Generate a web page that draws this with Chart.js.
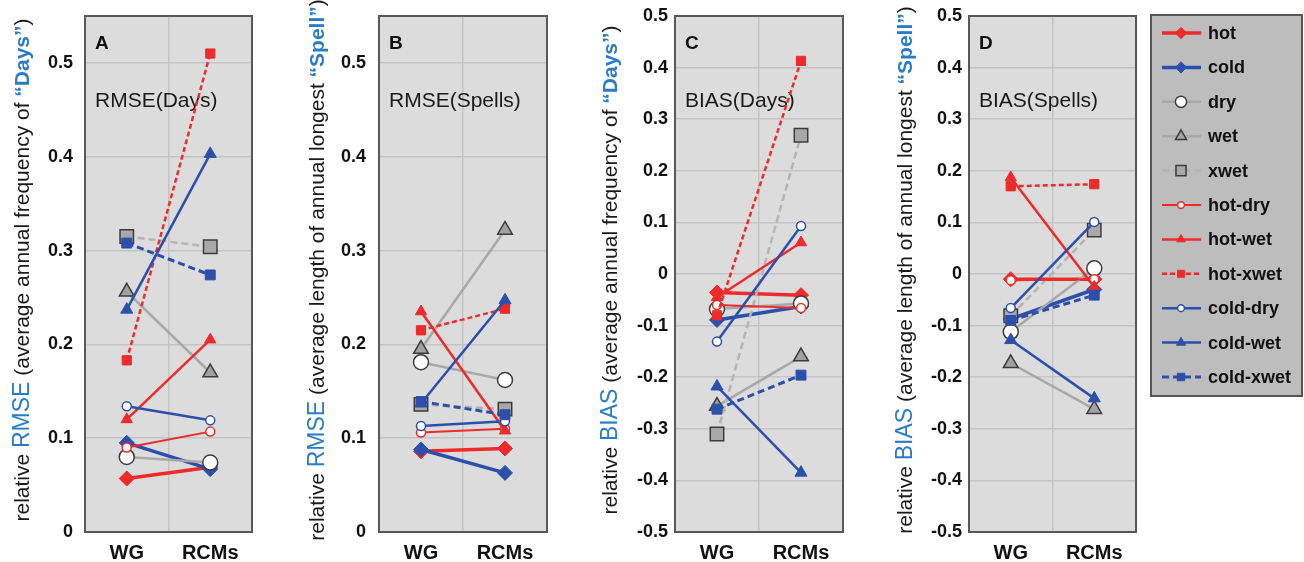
<!DOCTYPE html>
<html>
<head>
<meta charset="utf-8">
<script src="https://cdn.jsdelivr.net/npm/chart.js@4.4.1/dist/chart.umd.min.js"></script>
<style>
  html, body { margin: 0; padding: 0; background: #ffffff; }
  #wrap { position: relative; width: 1304px; height: 562px; overflow: hidden; }
  #wrap canvas { position: absolute; left: 0; top: 0; }
</style>
</head>
<body>
<div id="wrap">
  <canvas id="panelA" width="1304" height="562"></canvas>
  <canvas id="panelB" width="1304" height="562"></canvas>
  <canvas id="panelC" width="1304" height="562"></canvas>
  <canvas id="panelD" width="1304" height="562"></canvas>
</div>
<script>
// ---- data -------------------------------------------------------------
const categories = ['WG', 'RCMs'];
const seriesNames = ['hot', 'cold', 'dry', 'wet', 'xwet', 'hot-dry', 'hot-wet',
                     'hot-xwet', 'cold-dry', 'cold-wet', 'cold-xwet'];

// A: relative RMSE, annual frequency of days
const rmseDaysWG  = [0.057, 0.095, 0.080, 0.256, 0.315, 0.090, 0.120, 0.183, 0.134, 0.237, 0.308];
const rmseDaysRCM = [0.069, 0.067, 0.074, 0.170, 0.304, 0.107, 0.205, 0.510, 0.119, 0.403, 0.274];

// B: relative RMSE, annual longest spell
const rmseSpellsWG  = [0.086, 0.088, 0.181, 0.195, 0.136, 0.106, 0.235, 0.215, 0.113, 0.137, 0.139];
const rmseSpellsRCM = [0.089, 0.063, 0.162, 0.322, 0.131, 0.110, 0.108, 0.238, 0.118, 0.247, 0.125];

// C: relative BIAS, annual frequency of days
const biasDaysWG  = [-0.036, -0.089, -0.068, -0.256, -0.310, -0.060, -0.045, -0.080, -0.131, -0.218, -0.262];
const biasDaysRCM = [-0.041, -0.063, -0.057, -0.160, 0.269, -0.066, 0.061, 0.413, 0.093, -0.385, -0.196];

// D: relative BIAS, annual longest spell
const biasSpellsWG  = [-0.010, -0.087, -0.112, -0.173, -0.081, -0.012, 0.187, 0.170, -0.066, -0.128, -0.090];
const biasSpellsRCM = [-0.010, -0.030, 0.011, -0.262, 0.085, -0.010, -0.025, 0.174, 0.101, -0.241, -0.041];

const rmseTicks = [0, 0.1, 0.2, 0.3, 0.4, 0.5];
const biasTicks = [-0.5, -0.4, -0.3, -0.2, -0.1, 0, 0.1, 0.2, 0.3, 0.4, 0.5];

// ---- styling ----------------------------------------------------------
const FONT = "'Liberation Sans', Arial, Helvetica, sans-serif";
const RED = '#ee2a2a';
const BLUE = '#2d4fac';
const GREY = '#a8a8a8';
const EDGE = '#3c3c3c';
const TITLE_BLUE = '#2a7cc8';
const PLOT_BG = '#dcdcdc';
const GRID = '#c4c4c4';
const FRAME = '#585858';

const seriesStyle = [
  { color: RED,  width: 3.5, dash: [],     point: 'rectRot',  r: 7.5, fill: RED,       edge: RED,  bw: 1 },
  { color: BLUE, width: 3.5, dash: [],     point: 'rectRot',  r: 7.5, fill: BLUE,      edge: BLUE, bw: 1 },
  { color: GREY, width: 2.5, dash: [],     point: 'circle',   r: 7.5, fill: '#ffffff', edge: EDGE, bw: 1.5 },
  { color: GREY, width: 2.5, dash: [],     point: 'triangle', r: 8.5, fill: '#a2a2a2', edge: EDGE, bw: 1.5 },
  { color: '#b4b4b4', width: 2.5, dash: [7, 4], point: 'rect', r: 9.5, fill: '#a8a8a8', edge: EDGE, bw: 1.5 },
  { color: RED,  width: 2,   dash: [],     point: 'circle',   r: 4.5, fill: '#ffffff', edge: RED,  bw: 1.5 },
  { color: RED,  width: 2.5, dash: [],     point: 'triangle', r: 6.5, fill: RED,       edge: RED,  bw: 1 },
  { color: RED,  width: 2.5, dash: [5, 3], point: 'rect',     r: 6.5, fill: RED,       edge: RED,  bw: 1 },
  { color: BLUE, width: 2.5, dash: [],     point: 'circle',   r: 4.5, fill: '#ffffff', edge: BLUE, bw: 1.5 },
  { color: BLUE, width: 2.5, dash: [],     point: 'triangle', r: 7,   fill: BLUE,      edge: BLUE, bw: 1 },
  { color: BLUE, width: 3,   dash: [7, 4], point: 'rect',     r: 7,   fill: BLUE,      edge: BLUE, bw: 1 }
];

function buildDatasets(wg, rcm) {
  return seriesNames.map((name, i) => {
    const s = seriesStyle[i];
    return {
      label: name,
      data: [wg[i], rcm[i]],
      borderColor: s.color,
      borderWidth: s.width,
      borderDash: s.dash,
      tension: 0,
      fill: false,
      pointStyle: s.point,
      pointRadius: s.r,
      pointHoverRadius: s.r,
      pointBackgroundColor: s.fill,
      pointBorderColor: s.edge,
      pointBorderWidth: s.bw,
      order: -i   // later series sit on top
    };
  });
}

function tickText(v) {
  if (Math.abs(v) < 1e-9) return '0';
  return v.toFixed(1);
}

// rotated axis title made of coloured pieces
function drawAxisTitle(ctx, x, cy, parts) {
  ctx.save();
  ctx.translate(x, cy);
  ctx.rotate(-Math.PI / 2);
  ctx.textBaseline = 'middle';
  ctx.textAlign = 'left';
  let total = 0;
  parts.forEach(p => { ctx.font = p.font; p.w = ctx.measureText(p.text).width; total += p.w; });
  let pos = -total / 2;
  parts.forEach(p => {
    ctx.font = p.font;
    ctx.fillStyle = p.color;
    ctx.fillText(p.text, pos, 0);
    pos += p.w;
  });
  ctx.restore();
}

function titleParts(measure, quantity) {
  const plain = `21px ${FONT}`;
  return [
    { text: 'relative ', font: plain, color: '#1a1a1a' },
    { text: measure, font: `23px ${FONT}`, color: TITLE_BLUE },
    { text: ' (' + quantity + ' ', font: plain, color: '#1a1a1a' },
    { text: quantity.indexOf('frequency') >= 0 ? '\u201CDays\u201D' : '\u201CSpell\u201D',
      font: `bold 21px ${FONT}`, color: TITLE_BLUE },
    { text: ')', font: plain, color: '#1a1a1a' }
  ];
}

function drawMarker(ctx, style, r, x, y) {
  ctx.save();
  ctx.setLineDash([]);
  ctx.fillStyle = style.fill;
  ctx.strokeStyle = style.edge;
  ctx.lineWidth = style.bw;
  if (Chart.helpers && Chart.helpers.drawPoint) {
    Chart.helpers.drawPoint(ctx, { pointStyle: style.point, radius: r, rotation: 0, borderWidth: style.bw }, x, y);
  } else {
    ctx.beginPath();
    if (style.point === 'circle') {
      ctx.arc(x, y, r, 0, Math.PI * 2);
    } else if (style.point === 'rect') {
      const h = r * Math.SQRT1_2;
      ctx.rect(x - h, y - h, 2 * h, 2 * h);
    } else if (style.point === 'rectRot') {
      ctx.moveTo(x, y - r); ctx.lineTo(x + r, y); ctx.lineTo(x, y + r); ctx.lineTo(x - r, y);
      ctx.closePath();
    } else {
      ctx.moveTo(x, y - r); ctx.lineTo(x + r * 0.866, y + r * 0.5); ctx.lineTo(x - r * 0.866, y + r * 0.5);
      ctx.closePath();
    }
    ctx.fill();
    ctx.stroke();
  }
  ctx.restore();
}

// series key box to the right of panel D
const legendPlugin = {
  id: 'seriesKey',
  afterDraw(chart) {
    const ctx = chart.ctx;
    const left = 1151, top = 15, w = 151, h = 381;
    ctx.save();
    ctx.fillStyle = '#bdbdbd';
    ctx.fillRect(left, top, w, h);
    ctx.strokeStyle = '#555555';
    ctx.lineWidth = 2;
    ctx.strokeRect(left, top, w, h);
    ctx.font = `bold 18px ${FONT}`;
    ctx.textBaseline = 'middle';
    ctx.textAlign = 'left';
    seriesNames.forEach((name, i) => {
      const s = seriesStyle[i];
      const y = 33 + i * 34.4;
      ctx.save();
      ctx.strokeStyle = s.color;
      ctx.lineWidth = s.width;
      ctx.setLineDash(s.dash);
      ctx.beginPath();
      ctx.moveTo(1162, y);
      ctx.lineTo(1201, y);
      ctx.stroke();
      ctx.restore();
      drawMarker(ctx, s, s.r * 0.75, 1181, y);
      ctx.fillStyle = '#111111';
      ctx.fillText(name, 1208, y + 1);
    });
    ctx.restore();
  }
};

function panelPlugin(cfg) {
  return {
    id: 'panelDecor',
    beforeDraw(chart) {
      const a = chart.chartArea;
      const ctx = chart.ctx;
      ctx.save();
      ctx.fillStyle = PLOT_BG;
      ctx.fillRect(a.left, a.top, a.right - a.left, a.bottom - a.top);
      ctx.restore();
    },
    beforeDatasetsDraw(chart) {
      const a = chart.chartArea;
      const ctx = chart.ctx;
      ctx.save();
      ctx.strokeStyle = FRAME;
      ctx.lineWidth = 2;
      ctx.strokeRect(a.left, a.top, a.right - a.left, a.bottom - a.top);
      ctx.fillStyle = '#111111';
      ctx.textAlign = 'left';
      ctx.textBaseline = 'alphabetic';
      ctx.font = `bold 19px ${FONT}`;
      ctx.fillText(cfg.letter, a.left + 10, 49);
      ctx.font = `21px ${FONT}`;
      ctx.fillStyle = '#1a1a1a';
      ctx.fillText(cfg.caption, a.left + 10, 107);
      ctx.restore();
    },
    afterDraw(chart) {
      drawAxisTitle(chart.ctx, cfg.titleX, 270, titleParts(cfg.measure, cfg.quantity));
    }
  };
}

const AXIS_W = 70;

function makePanel(cfg) {
  const ticks = cfg.ticks;
  const extra = cfg.withKey ? [panelPlugin(cfg), legendPlugin] : [panelPlugin(cfg)];
  return new Chart(document.getElementById(cfg.id), {
    type: 'line',
    data: { labels: categories, datasets: buildDatasets(cfg.wg, cfg.rcm) },
    options: {
      responsive: false,
      animation: false,
      devicePixelRatio: 1,
      events: [],
      layout: { padding: { left: cfg.L - AXIS_W, right: 1304 - cfg.R, top: 16, bottom: 0 } },
      plugins: { legend: { display: false }, tooltip: { enabled: false }, title: { display: false } },
      scales: {
        x: {
          type: 'category',
          offset: true,
          grid: { offset: true, color: GRID, lineWidth: 1.5, drawTicks: false },
          border: { display: false },
          ticks: { font: { family: FONT, size: 20, weight: 'bold' }, color: '#111111', padding: 9 },
          afterFit: s => { s.height = 30; }
        },
        y: {
          min: cfg.min,
          max: cfg.max,
          afterBuildTicks: s => { s.ticks = ticks.map(v => ({ value: v })); },
          grid: { color: GRID, lineWidth: 1.5, drawTicks: false },
          border: { display: false },
          ticks: {
            font: { family: FONT, size: 18, weight: 'bold' },
            color: '#111111',
            padding: cfg.tickPad,
            callback: v => tickText(v)
          },
          afterFit: s => {
            s.width = AXIS_W;
            s.paddingTop = 0;
            s.paddingBottom = 0;
          }
        }
      }
    },
    plugins: extra
  });
}

makePanel({ id: 'panelA', L: 85,  R: 252,  min: 0, max: 0.55, ticks: rmseTicks, wg: rmseDaysWG, rcm: rmseDaysRCM,
            letter: 'A', caption: 'RMSE(Days)', measure: 'RMSE', quantity: 'average annual frequency of',
            titleX: 23, tickPad: 12 });
makePanel({ id: 'panelB', L: 379, R: 547,  min: 0, max: 0.55, ticks: rmseTicks, wg: rmseSpellsWG, rcm: rmseSpellsRCM,
            letter: 'B', caption: 'RMSE(Spells)', measure: 'RMSE', quantity: 'average length of annual longest',
            titleX: 318, tickPad: 13 });
makePanel({ id: 'panelC', L: 675, R: 843,  min: -0.5, max: 0.5, ticks: biasTicks, wg: biasDaysWG, rcm: biasDaysRCM,
            letter: 'C', caption: 'BIAS(Days)', measure: 'BIAS', quantity: 'average annual frequency of',
            titleX: 611, tickPad: 7 });
makePanel({ id: 'panelD', L: 969, R: 1136, min: -0.5, max: 0.5, ticks: biasTicks, wg: biasSpellsWG, rcm: biasSpellsRCM,
            letter: 'D', caption: 'BIAS(Spells)', measure: 'BIAS', quantity: 'average length of annual longest',
            titleX: 906, tickPad: 7, withKey: true });
</script>
</body>
</html>
